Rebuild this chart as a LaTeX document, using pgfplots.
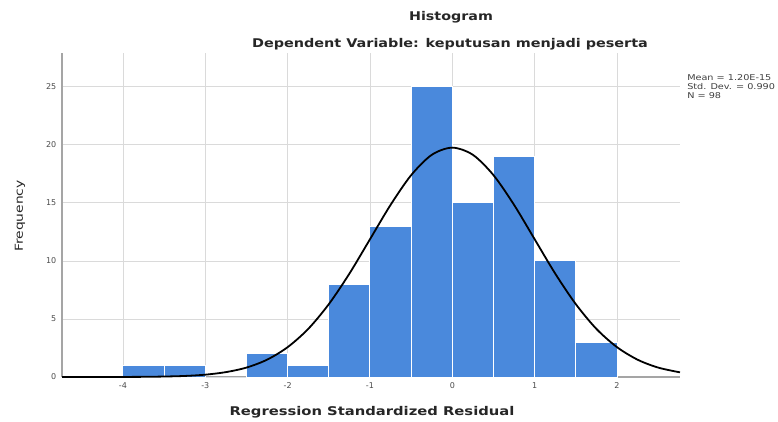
\documentclass[border=0pt]{standalone}
\usepackage{pgfplots}
\pgfplotsset{compat=1.18}
\usepackage{fontspec}
\setmainfont{DejaVu Sans}
\definecolor{barblue}{RGB}{74,137,220}
\definecolor{gridgray}{RGB}{218,218,218}
\definecolor{axgray}{RGB}{165,165,165}
\begin{document}
\begin{tikzpicture}[x=1pt,y=1pt]
\path[use as bounding box,fill=white] (0,0) rectangle (778,421);
\begin{axis}[
  at={(62pt,44pt)}, anchor=south west,
  scale only axis, width=618pt, height=324pt,
  xmin=-4.74, xmax=2.765, ymin=0, ymax=27.9,
  axis lines=left, axis line style={axgray,-,line width=1.2pt},
  xtick={-4,-3,-2,-1,0,1,2}, ytick={0,5,10,15,20,25},
  grid=major, grid style={gridgray,line width=0.7pt},
  tick style={draw=none},
  ticklabel style={font=\fontsize{8}{8}\selectfont, text=black!70},
  /pgf/number format/assume math mode=true,
  clip=false,
]
\addplot[ybar interval, fill=barblue, draw=white, line width=1pt] coordinates {
(-4,1) (-3.5,1) (-3,0) (-2.5,2) (-2,1) (-1.5,8) (-1,13) (-0.5,25) (0,15) (0.5,19) (1,10) (1.5,3) (2,3)};
\addplot[black, line width=1.8pt, smooth] coordinates {
(-4.74,0.001) (-4.5,0.002) (-4.25,0.002) (-4,0.006) (-3.75,0.015) (-3.5,0.04) (-3.25,0.09) (-3,0.20)
(-2.75,0.42) (-2.5,0.81) (-2.25,1.49) (-2,2.57) (-1.75,4.14) (-1.5,6.27) (-1.25,8.90)
(-1,11.86) (-0.75,14.82) (-0.5,17.38) (-0.25,19.13) (0,19.75) (0.25,19.13) (0.5,17.38)
(0.75,14.82) (1,11.86) (1.25,8.90) (1.5,6.27) (1.75,4.14) (2,2.57) (2.25,1.49) (2.5,0.81) (2.765,0.40)};
\end{axis}
\node[font=\bfseries\fontsize{12}{13}\selectfont, text=black!85, xscale=1.19] at (451,404) {Histogram};
\node[font=\bfseries\fontsize{12}{13}\selectfont, text=black!85, xscale=1.2] at (450,377) {Dependent Variable: keputusan menjadi peserta};
\node[font=\bfseries\fontsize{12}{13}\selectfont, text=black!85, xscale=1.23] at (372,9) {Regression Standardized Residual};
\node[font=\fontsize{11}{12}\selectfont, rotate=90, xscale=1.26, text=black!85] at (20,205) {Frequency};
\node[font=\fontsize{8}{9}\selectfont, align=left, anchor=north west, inner sep=0pt, text=black!75, xscale=1.21] at (687,347) {Mean = 1.20E-15\\Std. Dev. = 0.990\\N = 98};
\end{tikzpicture}
\end{document}
